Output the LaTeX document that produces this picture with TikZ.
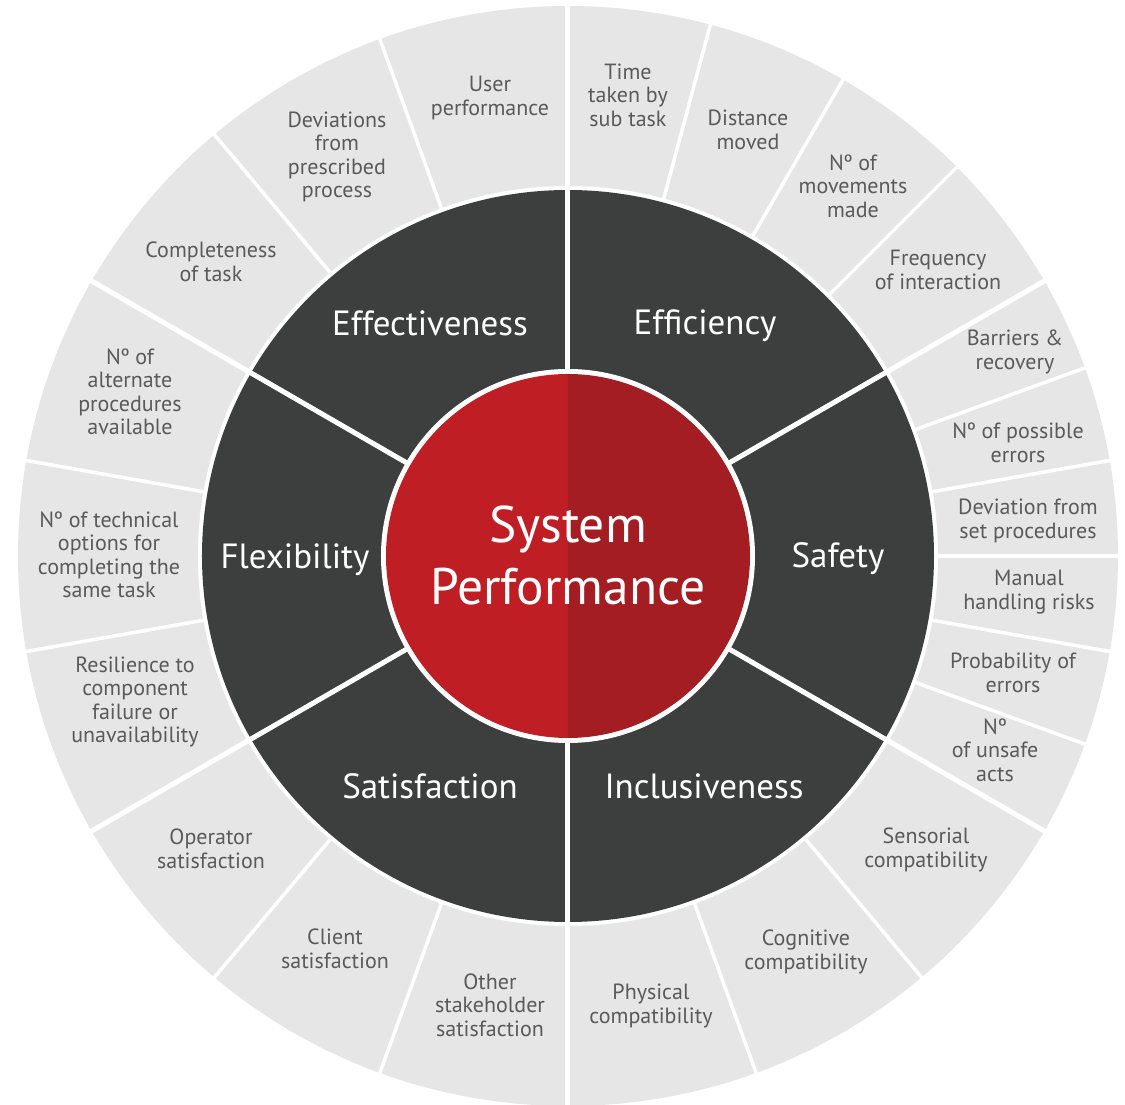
\documentclass[tikz,border=0pt]{standalone}
\usepackage{fontspec}
\setmainfont{PT Sans}
\definecolor{ringgray}{HTML}{E6E6E6}
\definecolor{darkring}{HTML}{3D3F3E}
\definecolor{redL}{HTML}{BE1E24}
\definecolor{redR}{HTML}{A41D22}
\definecolor{txtgray}{HTML}{5A5A5A}
\tikzset{
  outerlbl/.style={text=txtgray, align=center, font=\fontsize{22}{23.5}\selectfont, inner sep=0pt},
  midlbl/.style={text=white, font=\fontsize{35}{38}\selectfont, inner sep=0pt},
  centerlbl/.style={text=white, align=center, font=\fontsize{51.5}{62}\selectfont, inner sep=0pt},
  minorsep/.style={white, line width=3.5pt},
  majorsep/.style={white, line width=5pt},
}
\begin{document}
\begin{tikzpicture}[x=1pt,y=1pt]
\useasboundingbox (-568,-549) rectangle (557,556);
% outer gray ring
\fill[ringgray] (0,0) circle (550);
\foreach \a in {75,60,45,20,10,0,-10,-20,-50,-70,230,250,170,190,110,130}
  \draw[minorsep] (\a:360) -- (\a:553);
\foreach \a in {30,90,150,210,270,330}
  \draw[majorsep] (\a:360) -- (\a:553);
% white gap and dark ring
\fill[white] (0,0) circle (370);
\fill[darkring] (0,0) circle (366);
\foreach \a in {30,90,150,210,270,330}
  \draw[majorsep] (0,0) -- (\a:368);
% red centre
\fill[white] (0,0) circle (187);
\fill[redL] (0,182) arc (90:270:182) -- cycle;
\fill[redR] (0,-182) arc (-90:90:182) -- cycle;
% centre label
\node[centerlbl] (sp) at (0,1) {System\\Performance};
% middle labels
\node[midlbl] (effectiveness) at (-138,233) {Effectiveness};
\node[midlbl] (efficiency) at (137,230) {Efficiency};
\node[midlbl] (safety) at (270,-3) {Safety};
\node[midlbl] (inclusiveness) at (136,-230) {Inclusiveness};
\node[midlbl] (satisfaction) at (-138,-230) {Satisfaction};
\node[midlbl] (flexibility) at (-273,-4) {Flexibility};
% outer labels
\node[outerlbl] (o1) at (60,461) {Time\\taken by\\sub task};
\node[outerlbl] (o2) at (180,426) {Distance\\moved};
\node[outerlbl] (o3) at (285,370) {Nº of\\movements\\made};
\node[outerlbl] (o4) at (370,286) {Frequency\\of interaction};
\node[outerlbl] (o5) at (447,204) {Barriers \&\\recovery};
\node[outerlbl] (o6) at (450,113) {Nº of possible\\errors};
\node[outerlbl] (o7) at (460,35) {Deviation from\\set procedures};
\node[outerlbl] (o8) at (461,-36) {Manual\\handling risks};
\node[outerlbl] (o9) at (445,-117) {Probability of\\errors};
\node[outerlbl] (o10) at (427,-194) {Nº\\of unsafe\\acts};
\node[outerlbl] (o11) at (358,-294) {Sensorial\\compatibility};
\node[outerlbl] (o12) at (238,-396) {Cognitive\\compatibility};
\node[outerlbl] (o13) at (83,-450) {Physical\\compatibility};
\node[outerlbl] (o14) at (-78,-449) {Other\\stakeholder\\satisfaction};
\node[outerlbl] (o15) at (-233,-393) {Client\\satisfaction};
\node[outerlbl] (o16) at (-357,-293) {Operator\\satisfaction};
\node[outerlbl] (o17) at (-433,-146) {Resilience to\\component\\failure or\\unavailability};
\node[outerlbl] (o18) at (-459,1) {Nº of technical\\options for\\completing the\\same task};
\node[outerlbl] (o19) at (-438,164) {Nº of\\alternate\\procedures\\available};
\node[outerlbl] (o20) at (-357,294) {Completeness\\of task};
\node[outerlbl] (o21) at (-231,399) {Deviations\\from\\prescribed\\process};
\node[outerlbl] (o22) at (-78,458) {User\\performance};
\end{tikzpicture}
\end{document}
